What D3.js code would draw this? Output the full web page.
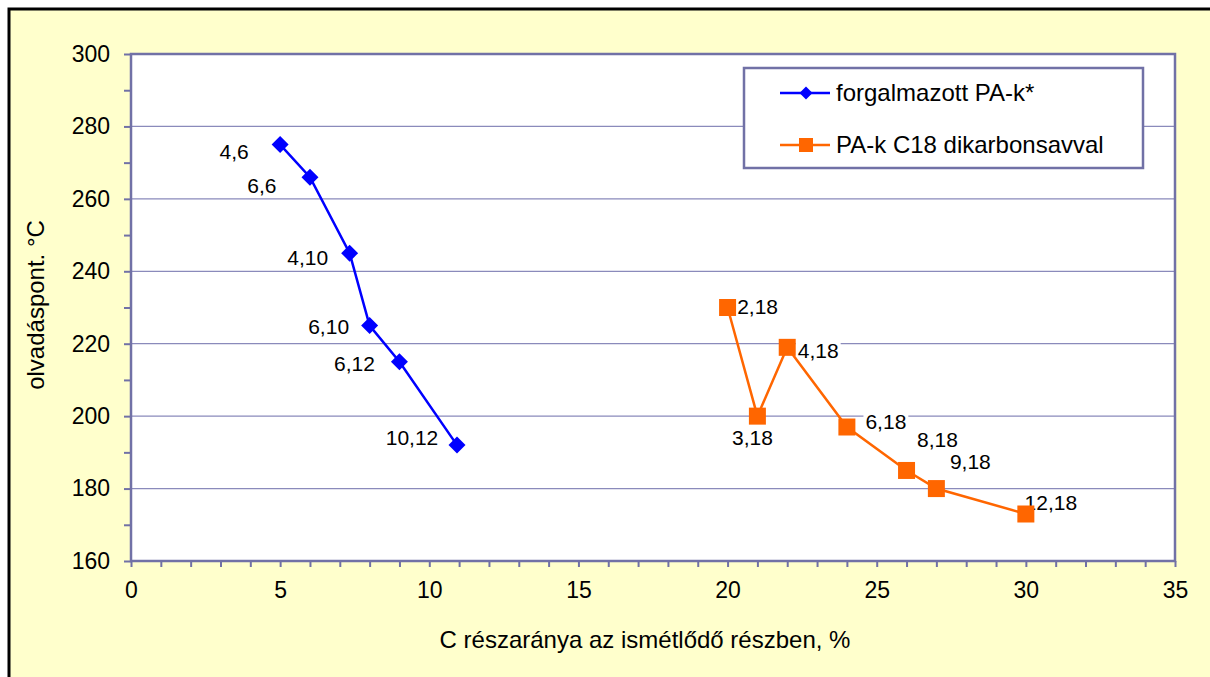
<!DOCTYPE html>
<html>
<head>
<meta charset="utf-8">
<script src="https://cdn.jsdelivr.net/npm/d3@7"></script>
<style>
  body { margin: 0; background: #fff; }
  text { font-family: "Liberation Sans", Arial, sans-serif; fill: #000; }
</style>
</head>
<body>
<svg id="chart" width="1210" height="677"></svg>
<script>
    // sorozat 1: forgalmazott PA-k
    var paX = [5, 6, 7.33, 8, 9, 10.93];
    var paY = [275, 266, 245, 225, 215, 192];
    var paLabels = ["4,6", "6,6", "4,10", "6,10", "6,12", "10,12"];

    // sorozat 2: PA-k C18 dikarbonsavval
    var c18X = [20, 21, 22, 24, 26, 27, 30];
    var c18Y = [230, 200, 219, 197, 185, 180, 173];
    var c18Labels = ["2,18", "3,18", "4,18", "6,18", "8,18", "9,18", "12,18"];

    var seriesNames = ["forgalmazott PA-k*", "PA-k C18 dikarbonsavval"];
    var xTicks = [0, 5, 10, 15, 20, 25, 30, 35];
    var yTicks = [160, 180, 200, 220, 240, 260, 280, 300];

    // címke eltolások (px) a pontokhoz képest
    var paOff = [[-46, 7], [-48, 9], [-42, 4], [-41, 1], [-45, 2], [-45, -7]];
    var c18Off = [[30, -1], [-5, 22], [31, 3], [39, -5], [31, -31], [34, -27], [25, -11]];

    var axisColor = "#7171a6";
    var gridColor = "#8a8abb";
    var blue = "#0000ff";
    var orange = "#ff6600";

    var svg = d3.select("#chart");

    svg.append("rect")
        .attr("x", 9).attr("y", 9)
        .attr("width", 1215).attr("height", 690)
        .attr("fill", "#ffffcc")
        .attr("stroke", "#000")
        .attr("stroke-width", 3);

    var pLeft = 131, pRight = 1175, pTop = 54, pBottom = 561;

    var x = d3.scaleLinear().domain([0, 35]).range([pLeft, pRight]);
    var y = d3.scaleLinear().domain([160, 300]).range([pBottom, pTop]);

    svg.append("rect")
        .attr("x", pLeft).attr("y", pTop)
        .attr("width", pRight - pLeft).attr("height", pBottom - pTop)
        .attr("fill", "#fff");

    // rácsvonalak
    svg.append("g").selectAll("line")
        .data(yTicks.slice(1))
        .enter().append("line")
        .attr("x1", pLeft).attr("x2", pRight)
        .attr("y1", d => y(d)).attr("y2", d => y(d))
        .attr("stroke", gridColor)
        .attr("stroke-width", 1.2);

    // tengelyek
    var yAxis = d3.axisLeft(y).tickValues(d3.range(160, 301, 10))
        .tickFormat(d => yTicks.indexOf(d) >= 0 ? d : "")
        .tickSize(7).tickPadding(14);
    var yg = svg.append("g").attr("transform", "translate(" + pLeft + ",0)").call(yAxis);

    var xAxis = d3.axisBottom(x).tickValues(d3.range(0, 36, 1))
        .tickFormat(d => xTicks.indexOf(d) >= 0 ? d : "")
        .tickSize(6).tickPadding(10);
    var xg = svg.append("g").attr("transform", "translate(0," + pBottom + ")").call(xAxis);

    [yg, xg].forEach(function (g) {
        g.select(".domain").remove();
        g.selectAll(".tick line").attr("stroke", axisColor).attr("stroke-width", 2);
        g.selectAll(".tick text").attr("font-size", 23).attr("font-family", "Liberation Sans, Arial, sans-serif");
    });
    xg.selectAll(".tick text").attr("dy", "0.9em");

    svg.append("rect")
        .attr("x", pLeft).attr("y", pTop)
        .attr("width", pRight - pLeft).attr("height", pBottom - pTop)
        .attr("fill", "none")
        .attr("stroke", axisColor)
        .attr("stroke-width", 2.5);

    // tengelycímek
    svg.append("text")
        .attr("x", 645).attr("y", 648)
        .attr("text-anchor", "middle")
        .attr("font-size", 24)
        .text("C részaránya az ismétlődő részben, %");

    svg.append("text")
        .attr("transform", "translate(44,305) rotate(-90)")
        .attr("text-anchor", "middle")
        .attr("font-size", 24)
        .text("olvadáspont. °C");

    function diamond(cx, cy, r) {
        return "M" + cx + "," + (cy - r) + "L" + (cx + r) + "," + cy + "L" + cx + "," + (cy + r) + "L" + (cx - r) + "," + cy + "Z";
    }
    function square(cx, cy, r) {
        return "M" + (cx - r) + "," + (cy - r) + "h" + (2 * r) + "v" + (2 * r) + "h" + (-2 * r) + "Z";
    }

    var line = d3.line().x(d => x(d[0])).y(d => y(d[1]));

    function drawSeries(xs, ys, labels, offs, color, shape, r) {
        var pts = xs.map((v, i) => [v, ys[i]]);
        var g = svg.append("g");

        // címkék fehér háttérrel
        var lab = g.selectAll(".lab").data(pts).enter().append("g");
        lab.append("rect").attr("fill", "#fff");
        lab.append("text")
            .attr("x", (d, i) => x(d[0]) + offs[i][0])
            .attr("y", (d, i) => y(d[1]) + offs[i][1])
            .attr("dy", "0.35em")
            .attr("text-anchor", "middle")
            .attr("font-size", 21)
            .text((d, i) => labels[i]);
        lab.each(function () {
            var bb = d3.select(this).select("text").node().getBBox();
            d3.select(this).select("rect")
                .attr("x", bb.x - 2).attr("y", bb.y + 1)
                .attr("width", bb.width + 4).attr("height", bb.height - 2);
        });

        g.append("path").datum(pts)
            .attr("d", line)
            .attr("fill", "none")
            .attr("stroke", color)
            .attr("stroke-width", 2.5);

        g.selectAll(".m").data(pts).enter().append("path")
            .attr("d", d => shape(x(d[0]), y(d[1]), r))
            .attr("fill", color);
    }

    drawSeries(paX, paY, paLabels, paOff, blue, diamond, 8.5);
    drawSeries(c18X, c18Y, c18Labels, c18Off, orange, square, 8.5);

    // jelmagyarázat
    var leg = svg.append("g");
    leg.append("rect")
        .attr("x", 744).attr("y", 68)
        .attr("width", 399).attr("height", 100)
        .attr("fill", "#fff")
        .attr("stroke", axisColor)
        .attr("stroke-width", 2.5);

    var legColors = [blue, orange];
    var legShapes = [diamond, square];
    var legR = [6.5, 7];
    seriesNames.forEach(function (name, i) {
        var ly = 93 + i * 52;
        leg.append("line")
            .attr("x1", 780).attr("x2", 830)
            .attr("y1", ly).attr("y2", ly)
            .attr("stroke", legColors[i]).attr("stroke-width", 2.5);
        leg.append("path")
            .attr("d", legShapes[i](806, ly, legR[i]))
            .attr("fill", legColors[i]);
        leg.append("text")
            .attr("x", 836).attr("y", ly)
            .attr("dy", "0.35em")
            .attr("font-size", 24)
            .text(name);
    });
</script>
</body>
</html>
